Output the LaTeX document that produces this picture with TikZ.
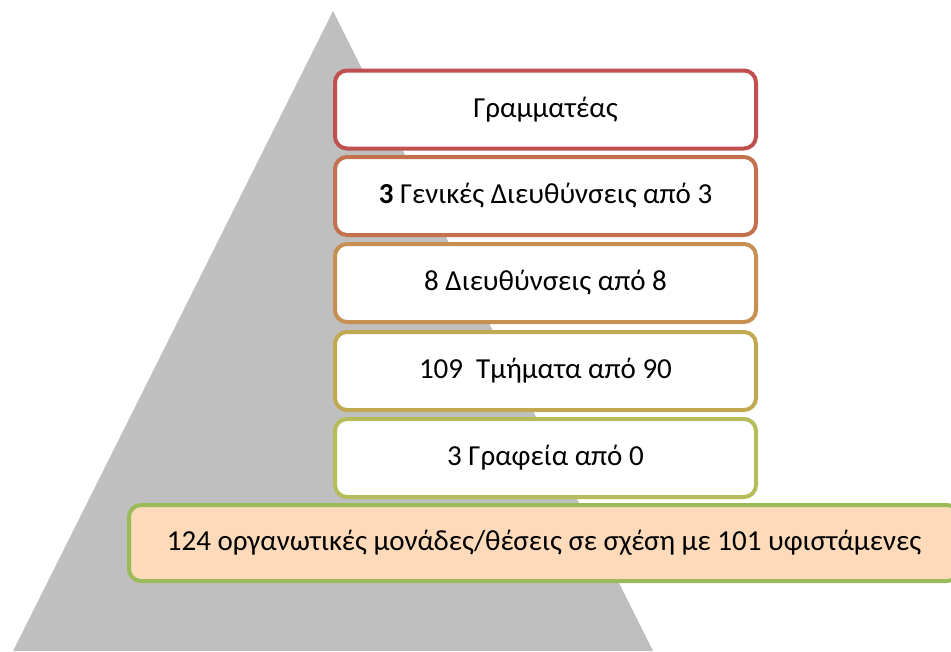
\documentclass[tikz,border=0pt]{standalone}
\usepackage{fontspec}
\setmainfont{Carlito}
\definecolor{trigray}{HTML}{BFBFBF}
\definecolor{c1}{HTML}{C0504D}
\definecolor{c2}{HTML}{C4714F}
\definecolor{c3}{HTML}{C78F51}
\definecolor{c4}{HTML}{C1A851}
\definecolor{c5}{HTML}{B6BC59}
\definecolor{c6}{HTML}{9BBB59}
\definecolor{peach}{HTML}{FDDBBA}
\begin{document}
\begin{tikzpicture}[x=1pt,y=-1pt,
  lvl/.style={draw=#1, line width=4pt, rounded corners=12pt, fill=white,
    minimum width=421pt, minimum height=78pt, inner sep=0pt,
    font=\fontsize{29}{34}\selectfont, anchor=center},
  basebox/.style={draw=c6, line width=4pt, rounded corners=12pt, fill=peach,
    minimum width=830pt, minimum height=76pt, inner sep=0pt,
    font=\fontsize{29}{34}\selectfont, anchor=center}
]
\useasboundingbox (0,0) rectangle (951,651);
\clip (0,0) rectangle (951,651);
\fill[trigray] (333,11) -- (653,651) -- (13,651) -- cycle;
\node[lvl=c1] (b1) at (545.5,109.5) {Γραμματέας};
\node[lvl=c2] (b2) at (545.5,196) {\textbf{3} Γενικές Διευθύνσεις από 3};
\node[lvl=c3] (b3) at (545.5,283) {8 Διευθύνσεις από 8};
\node[lvl=c4] (b4) at (545.5,371) {109\ \ Τμήματα από 90};
\node[lvl=c5] (b5) at (545.5,458) {3 Γραφεία από 0};
\node[basebox] (b6) at (544,543) {124 οργανωτικές μονάδες/θέσεις σε σχέση με 101 υφιστάμενες};
\end{tikzpicture}
\end{document}
